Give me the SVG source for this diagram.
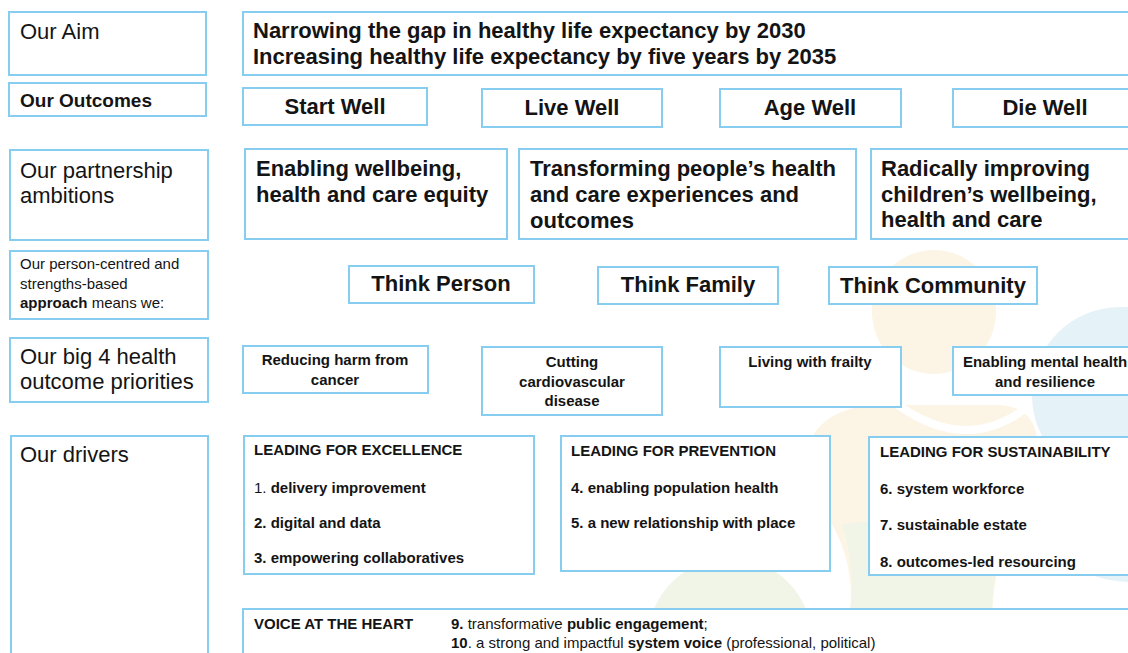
<svg xmlns="http://www.w3.org/2000/svg" width="1128" height="653" viewBox="0 0 1128 653">
  <style>
    .box { fill: #ffffff; stroke: #86cdef; stroke-width: 2; }
    text { font-family: "Liberation Sans", Arial, sans-serif; fill: #141414; }
    .lbl { font-size: 22px; }
    .lblb { font-size: 19px; font-weight: bold; }
    .small { font-size: 15px; }
    .h22 { font-size: 22px; font-weight: bold; }
    .h15 { font-size: 15px; font-weight: bold; }
    .mid { text-anchor: middle; }
    .bold { font-weight: bold; }
    .reg { font-weight: normal; }
    .beige { fill: #fcf5e5; }
    .blue { fill: #e5f2f8; }
    .green { fill: #f0f5e7; }
  </style>

  <rect width="1128" height="653" fill="#ffffff"/>

  <!-- faint figures in the background -->
  <g id="backdrop">
    <circle class="blue" cx="1120" cy="395" r="88"/>
    <ellipse class="blue" cx="1132" cy="510" rx="95" ry="72"/>
    <circle class="beige" cx="934" cy="312" r="62"/>
    <path class="beige" d="M805 465 C805 428 835 405 880 405 L995 405 C1025 405 1038 420 1038 450 L1038 480 C1010 520 995 560 992 612 L850 612 C855 570 840 530 818 505 C808 492 805 480 805 465 Z"/>
    <path class="green" d="M842 525 C890 515 960 515 1002 535 C996 560 993 585 992 612 L850 612 C854 580 851 552 842 525 Z"/>
    <path d="M898 405 Q968 455 1030 405" fill="none" stroke="#ffffff" stroke-width="8"/>
    <circle class="green" cx="730" cy="640" r="82"/>
  </g>

  <!-- row headings -->
  <g id="head-aim"><rect class="box" x="9" y="12" width="197" height="63"/><text class="lbl" x="20" y="39">Our Aim</text></g>
  <g id="head-outcomes"><rect class="box" x="9" y="83" width="197" height="33"/><text class="lblb" x="20" y="107">Our Outcomes</text></g>
  <g id="head-ambitions"><rect class="box" x="10" y="150" width="198" height="90"/><text class="lbl" x="20" y="178">Our partnership</text><text class="lbl" x="20" y="203">ambitions</text></g>
  <g id="head-approach"><rect class="box" x="10" y="251" width="198" height="68"/>
    <text class="small" x="20" y="269">Our person-centred and</text>
    <text class="small" x="20" y="289">strengths-based</text>
    <text class="small" x="20" y="308"><tspan class="bold">approach</tspan> means we:</text>
  </g>
  <g id="head-priorities"><rect class="box" x="10" y="338" width="198" height="64"/><text class="lbl" x="20" y="364">Our big 4 health</text><text class="lbl" x="20" y="389">outcome priorities</text></g>
  <g id="head-drivers"><rect class="box" x="11" y="436" width="197" height="240"/><text class="lbl" x="20" y="462">Our drivers</text></g>

  <!-- aim -->
  <g id="aim"><rect class="box" x="243" y="12" width="900" height="63"/>
    <text class="h22" x="253" y="38">Narrowing the gap in healthy life expectancy by 2030</text>
    <text class="h22" x="253" y="64">Increasing healthy life expectancy by five years by 2035</text>
  </g>

  <!-- outcomes -->
  <g id="start-well"><rect class="box" x="243" y="88" width="184" height="37"/><text class="h22 mid" x="335" y="114">Start Well</text></g>
  <g id="live-well"><rect class="box" x="482" y="89" width="180" height="38"/><text class="h22 mid" x="572" y="115">Live Well</text></g>
  <g id="age-well"><rect class="box" x="720" y="89" width="181" height="38"/><text class="h22 mid" x="810" y="115">Age Well</text></g>
  <g id="die-well"><rect class="box" x="953" y="89" width="190" height="38"/><text class="h22 mid" x="1045" y="115">Die Well</text></g>

  <!-- partnership ambitions -->
  <g id="ambition-equity"><rect class="box" x="245" y="149" width="262" height="90"/>
    <text class="h22" x="256" y="176">Enabling wellbeing,</text>
    <text class="h22" x="256" y="202">health and care equity</text>
  </g>
  <g id="ambition-experience"><rect class="box" x="519" y="149" width="337" height="90"/>
    <text class="h22" x="530" y="176">Transforming people’s health</text>
    <text class="h22" x="530" y="202">and care experiences and</text>
    <text class="h22" x="530" y="228">outcomes</text>
  </g>
  <g id="ambition-children"><rect class="box" x="871" y="149" width="270" height="90"/>
    <text class="h22" x="881" y="176">Radically improving</text>
    <text class="h22" x="881" y="202">children’s wellbeing,</text>
    <text class="h22" x="881" y="227">health and care</text>
  </g>

  <!-- approach -->
  <g id="think-person"><rect class="box" x="349" y="266" width="185" height="37"/><text class="h22 mid" x="441" y="291">Think Person</text></g>
  <g id="think-family"><rect class="box" x="598" y="267" width="180" height="37"/><text class="h22 mid" x="688" y="292">Think Family</text></g>
  <g id="think-community"><rect class="box" x="829" y="267" width="208" height="37"/><text class="h22 mid" x="933" y="293">Think Community</text></g>

  <!-- health outcome priorities -->
  <g id="priority-cancer"><rect class="box" x="243" y="346" width="185" height="47"/>
    <text class="h15 mid" x="335" y="365">Reducing harm from</text>
    <text class="h15 mid" x="335" y="385">cancer</text>
  </g>
  <g id="priority-cvd"><rect class="box" x="482" y="347" width="180" height="68"/>
    <text class="h15 mid" x="572" y="367">Cutting</text>
    <text class="h15 mid" x="572" y="387">cardiovascular</text>
    <text class="h15 mid" x="572" y="406">disease</text>
  </g>
  <g id="priority-frailty"><rect class="box" x="720" y="347" width="181" height="60"/>
    <text class="h15 mid" x="810" y="367">Living with frailty</text>
  </g>
  <g id="priority-mental"><rect class="box" x="953" y="347" width="190" height="48"/>
    <text class="h15 mid" x="1045" y="367">Enabling mental health</text>
    <text class="h15 mid" x="1045" y="387">and resilience</text>
  </g>

  <!-- drivers -->
  <g id="driver-excellence"><rect class="box" x="244" y="436" width="290" height="138"/>
    <text class="h15" x="254" y="455">LEADING FOR EXCELLENCE</text>
    <text class="h15" x="254" y="493"><tspan class="reg">1. </tspan>delivery improvement</text>
    <text class="h15" x="254" y="528">2. digital and data</text>
    <text class="h15" x="254" y="563">3. empowering collaboratives</text>
  </g>
  <g id="driver-prevention"><rect class="box" x="561" y="436" width="269" height="135"/>
    <text class="h15" x="571" y="456">LEADING FOR PREVENTION</text>
    <text class="h15" x="571" y="493">4. enabling population health</text>
    <text class="h15" x="571" y="528">5. a new relationship with place</text>
  </g>
  <g id="driver-sustainability"><rect class="box" x="869" y="437" width="270" height="138"/>
    <text class="h15" x="880" y="457">LEADING FOR SUSTAINABILITY</text>
    <text class="h15" x="880" y="494">6. system workforce</text>
    <text class="h15" x="880" y="530">7. sustainable estate</text>
    <text class="h15" x="880" y="567">8. outcomes-led resourcing</text>
  </g>
  <g id="driver-voice"><rect class="box" x="243" y="609" width="900" height="60"/>
    <text class="small bold" x="254" y="629">VOICE AT THE HEART</text>
    <text class="small" x="451" y="629"><tspan class="bold">9.</tspan> transformative <tspan class="bold">public engagement</tspan>;</text>
    <text class="small" x="451" y="648"><tspan class="bold">10</tspan>. a strong and impactful <tspan class="bold">system voice</tspan> (professional, political)</text>
  </g>
</svg>
